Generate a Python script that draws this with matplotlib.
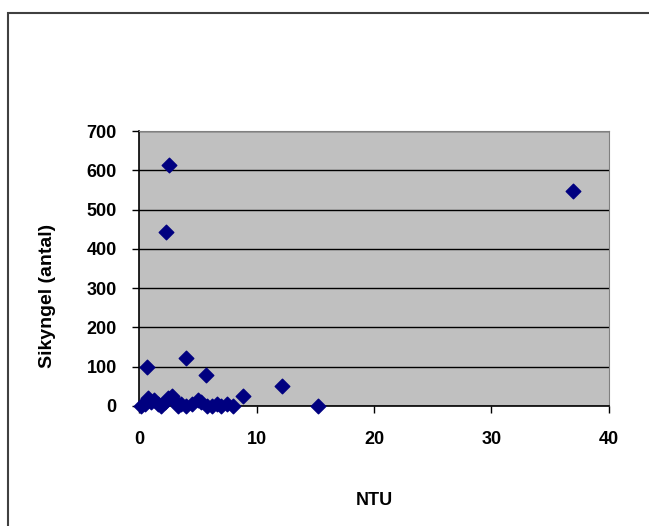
import numpy as np
import matplotlib.pyplot as plt
from matplotlib.patches import Rectangle

# Data
ntu = [2.55, 2.3, 36.9, 0.7, 4.0, 5.7, 8.85, 12.2, 15.2,
       0.2, 0.5, 0.8, 1.0, 1.3, 1.6, 1.9, 2.2, 2.5, 2.8, 3.0, 3.3, 3.6,
       4.0, 4.5, 5.0, 5.3, 5.8, 6.2, 6.6, 7.0, 7.5, 8.0]
sikyngel = [613, 443, 547, 99, 122, 79, 25, 51, 0,
            0, 5, 20, 10, 15, 5, 0, 10, 20, 25, 15, 0, 5,
            0, 5, 15, 10, 0, 0, 5, 0, 5, 0]

x_ticks = [0, 10, 20, 30, 40]
y_ticks = [0, 100, 200, 300, 400, 500, 600, 700]

plt.rcParams['font.family'] = ['Liberation Sans', 'DejaVu Sans']
fs = 13

fig = plt.figure(figsize=(6.49, 5.26), dpi=100)
fig.patch.set_facecolor('white')

# outer chart frame (cropped at right/bottom)
fig.patches.append(Rectangle((8 / 649, -0.1), 1.2, (526 - 13) / 526 + 0.1,
                             transform=fig.transFigure, fill=False,
                             edgecolor='#404040', linewidth=1.5))

ax = fig.add_axes([139 / 649, (526 - 406) / 526, (609 - 139) / 649, (406 - 131) / 526])
ax.set_facecolor('#C0C0C0')

ax.scatter(ntu, sikyngel, marker='D', s=55, color='#000080', zorder=3, clip_on=False)

ax.set_xlim(0, 40)
ax.set_ylim(0, 700)
ax.set_xticks(x_ticks)
ax.set_yticks(y_ticks)
ax.yaxis.grid(True, color='black', linewidth=1.0)
ax.set_axisbelow(True)

for side in ['top', 'right']:
    ax.spines[side].set_color('#808080')
for side in ['left', 'bottom']:
    ax.spines[side].set_color('black')
    ax.spines[side].set_linewidth(1.2)

ax.tick_params(direction='out', length=5, width=1, colors='black')
ax.tick_params(axis='x', pad=13)
ax.tick_params(axis='y', pad=11)
for lab in ax.get_xticklabels() + ax.get_yticklabels():
    lab.set_fontweight('bold')
    lab.set_fontsize(fs)

ax.set_xlabel('NTU', fontweight='bold', fontsize=fs, labelpad=32)
ax.set_ylabel('Sikyngel (antal)', fontweight='bold', fontsize=fs + 1)
ax.yaxis.set_label_coords(-0.176, 0.40)

fig.savefig('out.png', dpi=100)
